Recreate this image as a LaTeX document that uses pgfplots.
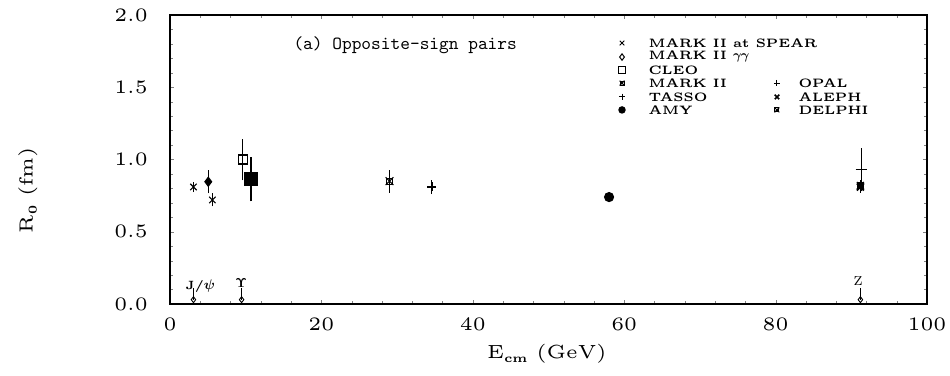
\documentclass[border=0pt]{standalone}
\usepackage{pgfplots}
\pgfplotsset{compat=1.18}

\font\RSKtick=cmr5 at 19pt
\font\RSKsub=cmbx5 at 12pt
\font\RSKleg=cmbx5 at 12.2pt
\font\RSKleggreek=cmmib10 at 13pt
\font\RSKttl=cmtt10 at 18.5pt
\font\RSKsmallbf=cmbx5 at 12pt
\font\RSKpsi=cmmib10 at 14pt
\font\RSKups=cmbx10 at 13pt
\font\RSKz=cmr7 at 13pt

\pgfplotsset{
  datapt/.style={only marks, black, line width=1.1pt, forget plot},
  ebar/.style={black, line width=1.1pt, no markers, forget plot},
  legpt/.style={only marks, black, line width=1pt, mark size=3.2pt, forget plot},
}

\begin{document}
\begin{tikzpicture}
\begin{axis}[
  width=757pt, height=289pt, scale only axis,
  xmin=0, xmax=100, ymin=0, ymax=2,
  xtick={0,20,40,60,80,100}, xticklabels={0,20,40,60,80,100},
  ytick={0,0.5,1,1.5,2}, yticklabels={0.0,0.5,1.0,1.5,2.0},
  minor x tick num=4, minor y tick num=4,
  axis line style={line width=1.2pt},
  ticklabel style={font=\RSKtick},
  xticklabel style={inner sep=0pt, anchor=north, yshift=-14pt},
  yticklabel style={inner sep=0pt, anchor=east, xshift=-22pt},
  every axis x label/.style={at={(axis description cs:0.498,-0.173)}, anchor=center},
  every axis y label/.style={at={(axis description cs:-0.1876,0.394)}, rotate=90, anchor=center},
  xlabel={\RSKtick E\lower4pt\hbox{\RSKsub cm} (GeV)},
  ylabel={\RSKtick R\lower4pt\hbox{\RSKsub 0} (fm)},
]
% error bars
\addplot[ebar] coordinates {(3.1,0.775) (3.1,0.845)};
\addplot[ebar] coordinates {(5.6,0.675) (5.6,0.765)};
\addplot[ebar] coordinates {(5.06,0.766) (5.06,0.926)};
\addplot[ebar] coordinates {(9.6,0.855) (9.6,1.145)};
\addplot[ebar] coordinates {(10.7,0.71) (10.7,1.02)};
\addplot[ebar] coordinates {(29.0,0.77) (29.0,0.93)};
\addplot[ebar] coordinates {(34.6,0.76) (34.6,0.86)};
\addplot[ebar] coordinates {(58.0,0.705) (58.0,0.775)};
\addplot[ebar] coordinates {(91.3,0.78) (91.3,1.08)};
\addplot[ebar] coordinates {(91.2,0.77) (91.2,0.86)};
% MARK II at SPEAR
\addplot[datapt, mark=x, mark size=4.5pt] coordinates {(3.1,0.81) (5.6,0.72)};
% MARK II gamma gamma
\addplot[datapt, mark=diamond*, mark size=4.5pt, fill=black] coordinates {(5.06,0.846)};
% CLEO
\addplot[datapt, mark=square, mark size=4.5pt] coordinates {(9.6,1.00)};
% unlabelled filled square
\addplot[datapt, mark=square*, mark size=6pt, fill=black] coordinates {(10.7,0.865)};
% MARK II
\addplot[datapt, mark=square, mark size=3pt] coordinates {(29.0,0.85)};
\addplot[datapt, mark=x, mark size=5.5pt] coordinates {(29.0,0.85)};
% TASSO
\addplot[datapt, mark=+, mark size=4.5pt, line width=1.3pt] coordinates {(34.6,0.81)};
% AMY
\addplot[datapt, mark=*, mark size=4.5pt, fill=black] coordinates {(58.0,0.74)};
% OPAL
\addplot[datapt, mark=+, mark size=5.5pt] coordinates {(91.3,0.93)};
% ALEPH
\addplot[datapt, mark=x, mark size=5pt, line width=1.8pt] coordinates {(91.2,0.81)};
% DELPHI
\addplot[datapt, mark=square*, mark size=3pt, fill=black] coordinates {(91.2,0.82)};
\addplot[datapt, mark=x, mark size=5pt] coordinates {(91.2,0.82)};
% resonance markers
\addplot[black, line width=0.9pt, mark=diamond, mark size=3pt, mark indices={1}, forget plot] coordinates {(3.1,0.03) (3.1,0.11)};
\addplot[black, line width=0.9pt, mark=diamond, mark size=3pt, mark indices={1}, forget plot] coordinates {(9.46,0.03) (9.46,0.11)};
\addplot[black, line width=0.9pt, mark=diamond, mark size=3pt, mark indices={1}, forget plot] coordinates {(91.2,0.03) (91.2,0.11)};
% legend symbols
\addplot[legpt, mark=x] coordinates {(59.71,1.806)};
\addplot[legpt, mark=diamond] coordinates {(59.71,1.709)};
\addplot[legpt, mark=square] coordinates {(59.71,1.619)};
\addplot[legpt, mark=square, mark size=2pt] coordinates {(59.71,1.529)};
\addplot[legpt, mark=x, mark size=3.4pt] coordinates {(59.71,1.529)};
\addplot[legpt, mark=+] coordinates {(59.71,1.433)};
\addplot[legpt, mark=*, fill=black] coordinates {(59.71,1.343)};
\addplot[legpt, mark=+] coordinates {(80.18,1.529)};
\addplot[legpt, mark=x, line width=1.6pt] coordinates {(80.18,1.433)};
\addplot[legpt, mark=square, mark size=2pt] coordinates {(80.18,1.343)};
\addplot[legpt, mark=x, mark size=3.4pt] coordinates {(80.18,1.343)};
\node[font=\RSKleg, anchor=west] at (axis cs:62.75,1.806) {MARK II at SPEAR};
\node[font=\RSKleg, anchor=west] at (axis cs:62.75,1.709) {MARK II {\RSKleggreek\char13\char13}};
\node[font=\RSKleg, anchor=west] at (axis cs:62.75,1.619) {CLEO};
\node[font=\RSKleg, anchor=west] at (axis cs:62.75,1.529) {MARK II};
\node[font=\RSKleg, anchor=west] at (axis cs:62.75,1.433) {TASSO};
\node[font=\RSKleg, anchor=west] at (axis cs:62.75,1.343) {AMY};
\node[font=\RSKleg, anchor=west] at (axis cs:82.56,1.529) {OPAL};
\node[font=\RSKleg, anchor=west] at (axis cs:82.56,1.433) {ALEPH};
\node[font=\RSKleg, anchor=west] at (axis cs:82.56,1.343) {DELPHI};
\node[font=\RSKsmallbf] at (axis cs:3.96,0.125) {J/{\RSKpsi\char32}};
\node[font=\RSKups] at (axis cs:9.4,0.145) {\char7};
\node[font=\RSKz] at (axis cs:90.9,0.16) {Z};
\node[font=\RSKttl, anchor=west] at (axis cs:15.85,1.792) {(a) Opposite-sign pairs};
\end{axis}
\pgfresetboundingbox
\path[use as bounding box] ([shift={(-170pt,-72pt)}]current axis.south west) rectangle ([shift={(23pt,15pt)}]current axis.north east);
\end{tikzpicture}
\end{document}
